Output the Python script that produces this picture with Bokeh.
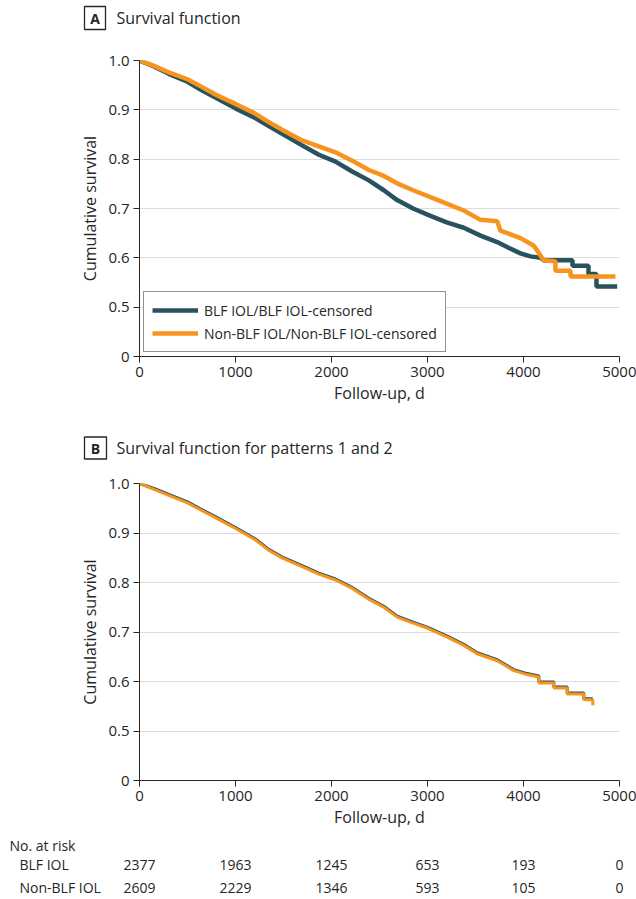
from bokeh.plotting import figure
from bokeh.models import Range1d, FixedTicker, Legend, LegendItem
from bokeh.embed import file_html
from bokeh.resources import INLINE
from bokeh.core.properties import value

FONT = "Open Sans"
TEAL = "#28525E"
ORANGE = "#F7941E"
TEXT = "#262626"
GRID = "#dcdcdc"

# ---------------- data ----------------
x_ticks = [0, 1000, 2000, 3000, 4000, 5000]
y_ticks = [0.4, 0.5, 0.6, 0.7, 0.8, 0.9, 1.0]
y_tick_labels = ["0", "0.5", "0.6", "0.7", "0.8", "0.9", "1.0"]

series_names = ["BLF IOL/BLF IOL-censored", "Non-BLF IOL/Non-BLF IOL-censored"]

# Panel A - survival function
blf_days_a = [0, 150, 305, 500, 653, 800, 1000, 1200, 1347, 1500, 1694, 1868, 2042,
              2215, 2389, 2545, 2684, 2850, 3031, 3200, 3378, 3552, 3726, 3850,
              3969, 4073, 4177, 4210, 4510, 4510, 4677, 4677, 4760, 4760, 4976]
blf_surv_a = [1.000, 0.988, 0.973, 0.957, 0.939, 0.924, 0.903, 0.884, 0.867, 0.850,
              0.828, 0.809, 0.795, 0.775, 0.757, 0.737, 0.717, 0.700, 0.685, 0.672,
              0.661, 0.645, 0.632, 0.620, 0.609, 0.603, 0.600, 0.595, 0.595, 0.584,
              0.584, 0.567, 0.567, 0.542, 0.542]

non_days_a = [0, 150, 305, 500, 653, 800, 1000, 1200, 1347, 1500, 1694, 1868, 2042,
              2215, 2389, 2545, 2684, 2850, 3031, 3200, 3378, 3552, 3726, 3760,
              3969, 4104, 4142, 4210, 4333, 4333, 4490, 4490, 4958]
non_surv_a = [1.000, 0.989, 0.976, 0.962, 0.946, 0.930, 0.912, 0.893, 0.875, 0.858,
              0.838, 0.826, 0.814, 0.797, 0.778, 0.766, 0.751, 0.737, 0.723, 0.710,
              0.696, 0.677, 0.674, 0.655, 0.640, 0.625, 0.615, 0.595, 0.593, 0.574,
              0.574, 0.562, 0.562]

# Panel B - survival function for patterns 1 and 2
blf_days_b = [0, 150, 305, 500, 653, 800, 1000, 1200, 1347, 1500, 1694, 1868, 2042,
              2215, 2389, 2545, 2684, 2850, 2997, 3200, 3378, 3517, 3726, 3899,
              4038, 4160, 4160, 4316, 4316, 4455, 4455, 4628, 4628, 4722]
blf_surv_b = [1.000, 0.990, 0.978, 0.963, 0.947, 0.932, 0.911, 0.889, 0.867, 0.850,
              0.834, 0.819, 0.807, 0.790, 0.768, 0.752, 0.732, 0.720, 0.710, 0.692,
              0.675, 0.658, 0.644, 0.624, 0.616, 0.611, 0.599, 0.599, 0.589, 0.589,
              0.577, 0.577, 0.565, 0.565]

non_days_b = [0, 150, 305, 500, 653, 800, 1000, 1200, 1347, 1500, 1694, 1868, 2042,
              2215, 2389, 2545, 2684, 2850, 2997, 3200, 3378, 3517, 3726, 3899,
              4038, 4160, 4160, 4316, 4316, 4455, 4455, 4628, 4628, 4722, 4722]
non_surv_b = [1.000, 0.988, 0.976, 0.961, 0.945, 0.930, 0.909, 0.887, 0.865, 0.848,
              0.832, 0.817, 0.805, 0.788, 0.766, 0.750, 0.730, 0.718, 0.708, 0.690,
              0.673, 0.656, 0.642, 0.622, 0.614, 0.609, 0.597, 0.597, 0.587, 0.587,
              0.575, 0.575, 0.563, 0.563, 0.552]

# Number at risk table
risk_days = [0, 1000, 2000, 3000, 4000, 5000]
risk_header = "No. at risk"
risk_groups = ["BLF IOL", "Non-BLF IOL"]
blf_at_risk = [2377, 1963, 1245, 653, 193, 0]
non_at_risk = [2609, 2229, 1346, 593, 105, 0]

panel_letters = ["A", "B"]
panel_titles = ["Survival function", "Survival function for patterns 1 and 2"]

# ---------------- layout constants ----------------
W = 636
LEFT = 139
RIGHT = 17
PX_PER_DAY = (W - LEFT - RIGHT) / 5000.0


def pixel_figure(height):
    p = figure(width=W, height=height, output_backend="svg", toolbar_location=None,
               x_range=Range1d(0, W), y_range=Range1d(height, 0),
               x_axis_type=None, y_axis_type=None,
               min_border_left=0, min_border_right=0, min_border_top=0, min_border_bottom=0)
    p.grid.visible = False
    p.outline_line_color = None
    return p


def header(height, cy, letter, title, box_w, box_h):
    h = pixel_figure(height)
    h.rect(x=[84 + box_w / 2], y=[cy], width=box_w, height=box_h,
           fill_color="white", line_color=TEXT, line_width=1.3)
    h.text(x=[84 + box_w / 2], y=[cy], text=[letter], text_font=value(FONT),
           text_font_size="14px", text_font_style="bold", text_color=TEXT,
           text_align="center", text_baseline="middle")
    h.text(x=[116], y=[cy], text=[title], text_font=value(FONT),
           text_font_size="16px", text_color=TEXT,
           text_align="left", text_baseline="middle")
    return h


def style_axes(p):
    for ax in (p.xaxis[0], p.yaxis[0]):
        ax.axis_line_color = TEXT
        ax.major_tick_line_color = TEXT
        ax.major_tick_out = 6
        ax.major_tick_in = 0
        ax.minor_tick_line_color = None
        ax.major_label_text_font = FONT
        ax.major_label_text_font_size = "15px"
        ax.major_label_text_color = TEXT
        ax.axis_label_text_font = FONT
        ax.axis_label_text_font_size = "16px"
        ax.axis_label_text_font_style = "normal"
        ax.axis_label_text_color = TEXT
    p.xaxis[0].ticker = FixedTicker(ticks=x_ticks)
    p.yaxis[0].ticker = FixedTicker(ticks=y_ticks)
    p.yaxis[0].major_label_overrides = {t: s for t, s in zip(y_ticks, y_tick_labels)}
    p.xaxis[0].major_label_overrides = {t: str(t) for t in x_ticks}
    p.xaxis[0].axis_label = "Follow-up, d"
    p.yaxis[0].axis_label = "Cumulative survival"
    p.xaxis[0].major_label_standoff = 4
    p.yaxis[0].major_label_standoff = 4
    p.xaxis[0].axis_label_standoff = 2
    p.yaxis[0].axis_label_standoff = 4
    p.xgrid.visible = False
    p.ygrid[0].ticker = FixedTicker(ticks=y_ticks)
    p.ygrid[0].grid_line_color = GRID
    p.ygrid[0].grid_line_width = 1
    p.outline_line_color = None


def make_panel(height, top, bottom):
    p = figure(width=W, height=height, output_backend="svg", toolbar_location=None,
               x_range=Range1d(0, 5000), y_range=Range1d(0.4, 1.0),
               min_border_left=LEFT, min_border_right=RIGHT,
               min_border_top=top, min_border_bottom=bottom)
    style_axes(p)
    return p


# Header A + Panel A
ha = header(40, 17.5, panel_letters[0], panel_titles[0], 21, 23)
pa = make_panel(370, 20, 54)
ra = pa.line(blf_days_a, blf_surv_a, line_color=TEAL, line_width=4.5)
rb = pa.line(non_days_a, non_surv_a, line_color=ORANGE, line_width=4.5)
legend = Legend(items=[LegendItem(label=series_names[0], renderers=[ra]),
                       LegendItem(label=series_names[1], renderers=[rb])],
                location="bottom_left", margin=4, padding=8, spacing=3,
                label_height=20, glyph_height=20, glyph_width=46, label_standoff=6,
                label_text_font=FONT, label_text_font_size="14px", label_text_color=TEXT,
                border_line_color=TEXT, border_line_width=1,
                background_fill_color="white", background_fill_alpha=1)
pa.add_layout(legend)
legend_glyph_note = None

# Header B + Panel B
hb = header(50, 37.5, panel_letters[1], panel_titles[1], 22, 22)
pb = make_panel(370, 23, 50)
pb.line(blf_days_b, blf_surv_b, line_color=TEAL, line_width=3)
pb.line(non_days_b, non_surv_b, line_color=ORANGE, line_width=3)

# Number at risk table (pixel coordinates; numbers placed at the axis ticks)
TH = 69
pt = pixel_figure(TH)
row_y = [34, 57]
pt.text(x=[9], y=[15], text=[risk_header],
        text_font=value(FONT), text_font_size="14px", text_color=TEXT,
        text_align="left", text_baseline="middle")
pt.text(x=[19, 19], y=row_y, text=risk_groups,
        text_font=value(FONT), text_font_size="14px", text_color=TEXT,
        text_align="left", text_baseline="middle")
for vals, yy in zip([blf_at_risk, non_at_risk], row_y):
    pt.text(x=[LEFT + d * PX_PER_DAY for d in risk_days], y=[yy] * len(risk_days),
            text=[str(v) for v in vals],
            text_font=value(FONT), text_font_size="14px", text_color=TEXT,
            text_align="center", text_baseline="middle")

# Each figure is its own root so they stack without frame alignment
open("out.html", "w").write(file_html([ha, pa, hb, pb, pt], INLINE))
